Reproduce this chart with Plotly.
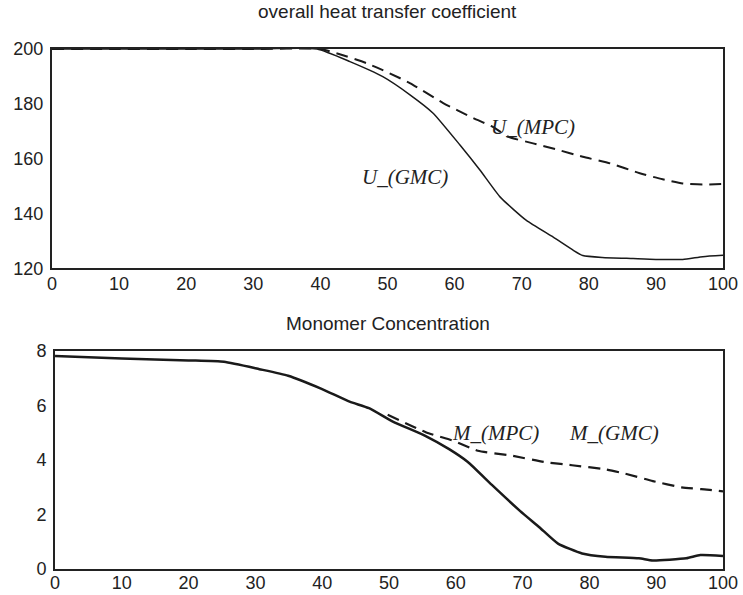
import plotly.graph_objects as go

# Overall heat transfer coefficient U over time, GMC vs MPC control
u_gmc_t = [0, 10, 20, 30, 39.5, 44.4, 49.3, 53.4, 56.8, 60.8, 63.8, 66.8, 70.7, 74.7, 77.7, 79.1, 82, 86.6, 90, 94, 97, 100]
u_gmc = [200, 200, 200, 200, 200, 195.4, 189.9, 183.2, 176.6, 165, 155.8, 146, 137.5, 131.4, 126.6, 124.7, 124, 123.6, 123.3, 123.3, 124.3, 124.8]

u_mpc_t = [0, 10, 20, 30, 40, 43, 46.9, 50, 53.4, 58.3, 62.8, 65.7, 68, 71.7, 75, 79.1, 83.2, 87.6, 91, 94, 97, 100]
u_mpc = [200, 200, 200, 200, 200, 198, 194.8, 191.5, 187.5, 180.3, 174.8, 171.6, 168, 165.6, 163.5, 160.7, 158.3, 154.7, 152.5, 151, 150.6, 150.8]

# Monomer concentration M over time
m_gmc_t = [0, 10, 20, 25.3, 30.6, 34.9, 39.9, 44.1, 47, 50.5, 55.5, 59, 61.8, 65.4, 69.6, 72.5, 75.3, 78.9, 82.4, 87.4, 89.5, 94.5, 96.6, 100]
m_gmc = [7.8, 7.71, 7.64, 7.59, 7.32, 7.08, 6.6, 6.13, 5.89, 5.41, 4.87, 4.39, 3.92, 3.08, 2.13, 1.53, 0.93, 0.57, 0.45, 0.39, 0.31, 0.39, 0.51, 0.48]

m_mpc_t = [49.8, 55.5, 59.7, 63.3, 68.2, 73.2, 77.4, 82.4, 85.2, 89.5, 93.8, 98, 100]
m_mpc = [5.65, 5.01, 4.69, 4.33, 4.16, 3.92, 3.8, 3.65, 3.5, 3.22, 2.99, 2.9, 2.84]

x_ticks = [0, 10, 20, 30, 40, 50, 60, 70, 80, 90, 100]
u_ticks = [120, 140, 160, 180, 200]
m_ticks = [0, 2, 4, 6, 8]

INK = "#1a1a1a"
DASH = "12px,7px"

fig = go.Figure()
fig.add_trace(go.Scatter(x=u_mpc_t, y=u_mpc, mode="lines",
                         line=dict(color=INK, width=2, dash=DASH, shape="spline", smoothing=0.5),
                         xaxis="x", yaxis="y"))
fig.add_trace(go.Scatter(x=u_gmc_t, y=u_gmc, mode="lines",
                         line=dict(color=INK, width=1.5, shape="spline", smoothing=0.5),
                         xaxis="x", yaxis="y"))
fig.add_trace(go.Scatter(x=m_mpc_t, y=m_mpc, mode="lines",
                         line=dict(color=INK, width=2.2, dash=DASH, shape="spline", smoothing=0.5),
                         xaxis="x2", yaxis="y2"))
fig.add_trace(go.Scatter(x=m_gmc_t, y=m_gmc, mode="lines",
                         line=dict(color=INK, width=2.5, shape="spline", smoothing=0.5),
                         xaxis="x2", yaxis="y2"))

tick_font = dict(family="Liberation Sans, Arial, sans-serif", size=18, color="#222")
axis_common = dict(showgrid=False, zeroline=False, showline=True, linecolor="#222",
                   linewidth=2, mirror=True, ticks="", tickfont=tick_font,
                   automargin=False)

# plot area: 49 px from the top, 26 px from the bottom
fig.update_layout(
    width=743, height=595,
    margin=dict(l=52, r=20, t=49, b=26),
    paper_bgcolor="white", plot_bgcolor="white",
    showlegend=False,
    xaxis=dict(domain=[0, 1], range=[0, 100], tickvals=x_ticks, anchor="y",
               ticklabelstandoff=-2, **axis_common),
    yaxis=dict(domain=[0.578, 1], range=[120, 200], tickvals=u_ticks, anchor="x",
               ticklabelstandoff=3, **axis_common),
    xaxis2=dict(domain=[0.0045, 1], range=[0, 100], tickvals=x_ticks, anchor="y2",
                ticklabelstandoff=-4, **axis_common),
    yaxis2=dict(domain=[0, 0.42], range=[0, 8], tickvals=m_ticks, anchor="x2",
                ticklabelstandoff=3, **axis_common),
)

title_font = dict(family="Liberation Sans, Arial, sans-serif", size=19, color="#222")
label_font = dict(family="Liberation Serif, Times New Roman, serif", size=21, color="#222",
                  style="italic")

fig.add_annotation(text="overall heat transfer coefficient", xref="paper", yref="paper",
                   x=0.5, y=1.0715, yanchor="middle", showarrow=False, font=title_font)
fig.add_annotation(text="Monomer Concentration", xref="paper", yref="paper",
                   x=0.5, y=0.4713, yanchor="middle", showarrow=False, font=title_font)

fig.add_annotation(text="U_(MPC)", xref="x", yref="y", x=71.7, y=171.5,
                   showarrow=False, font=label_font)
fig.add_annotation(text="U_(GMC)", xref="x", yref="y", x=52.6, y=153.4,
                   showarrow=False, font=label_font)
fig.add_annotation(text="M_(MPC)", xref="x2", yref="y2", x=66, y=4.97,
                   showarrow=False, font=label_font)
fig.add_annotation(text="M_(GMC)", xref="x2", yref="y2", x=83.7, y=4.97,
                   showarrow=False, font=label_font)

fig.write_html("out.html")
